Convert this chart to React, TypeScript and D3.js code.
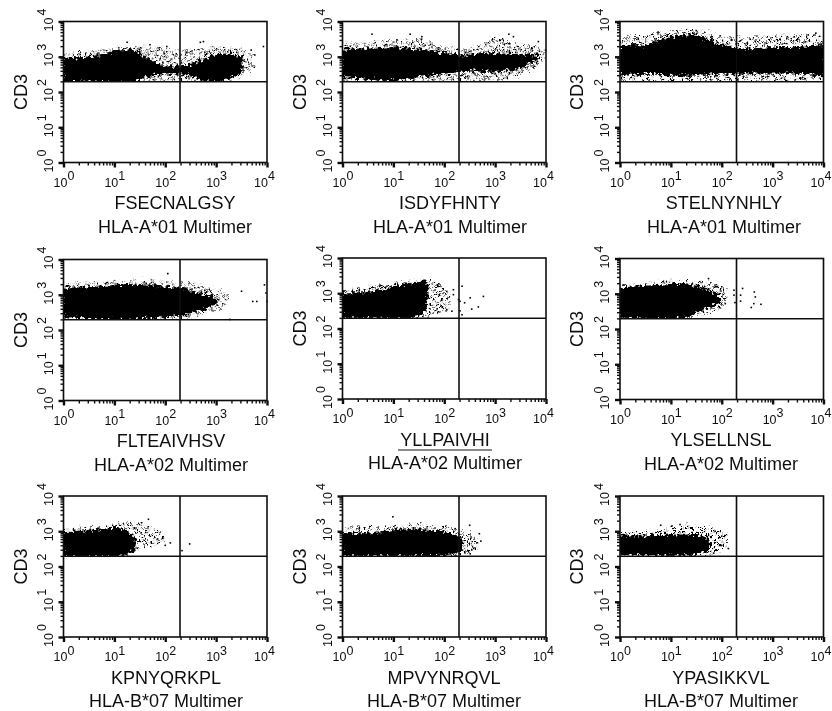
import { useEffect, useRef } from 'react'
import * as d3 from 'd3'

// All values below are log10 decades.
// The clouds hold thousands of events that cannot be read one by one, so each one
// is kept as an outline: [x, low, high] for the solid core and for the sparser halo.
const peptides = ['FSECNALGSY', 'ISDYFHNTY', 'STELNYNHLY', 'FLTEAIVHSV', 'YLLPAIVHI', 'YLSELLNSL', 'KPNYQRKPL', 'MPVYNRQVL', 'YPASIKKVL']
const alleles = ['HLA-A*01', 'HLA-A*01', 'HLA-A*01', 'HLA-A*02', 'HLA-A*02', 'HLA-A*02', 'HLA-B*07', 'HLA-B*07', 'HLA-B*07']
const gateX = 2.29
const gateY = 2.29

const fsecCore = [[0, 2.3, 2.98], [0.3, 2.32, 2.95], [0.6, 2.33, 3], [0.9, 2.3, 3.1], [1.1, 2.29, 3.15], [1.4, 2.33, 3.18], [1.55, 2.4, 3], [1.75, 2.5, 2.85], [2, 2.55, 2.7], [2.3, 2.55, 2.68], [2.5, 2.5, 2.75], [2.75, 2.35, 2.9], [3, 2.3, 3.05], [3.3, 2.42, 3.05], [3.5, 2.6, 2.98]]
const fsecHalo = [[0, 2.29, 3.05], [1, 2.29, 3.25], [1.5, 2.29, 3.3], [2, 2.3, 3.2], [2.5, 2.29, 3.2], [3, 2.29, 3.3], [3.4, 2.35, 3.25], [3.75, 2.7, 3.05]]
const fsecStray = [[3.93, 3.29], [3.76, 3.05], [3.69, 3.19], [2.69, 3.41], [2.75, 3.43], [2.03, 3.29], [1.7, 3.34], [1.25, 3.41]]

const isdyCore = [[0, 2.45, 3.2], [0.5, 2.4, 3.2], [1, 2.33, 3.25], [1.5, 2.45, 3.18], [2, 2.55, 3.1], [2.3, 2.6, 3], [2.6, 2.62, 3.05], [3, 2.6, 3.08], [3.4, 2.68, 3.05], [3.7, 2.85, 3.03], [3.85, 2.95, 3]]
const isdyHalo = [[0, 2.29, 3.4], [0.5, 2.29, 3.4], [1, 2.29, 3.5], [1.5, 2.29, 3.5], [2, 2.29, 3.3], [2.5, 2.29, 3.25], [3, 2.3, 3.55], [3.4, 2.4, 3.4], [3.9, 2.8, 3.3], [4, 2.95, 3.1]]
const isdyStray = [[0.58, 3.64], [1.33, 3.64], [1.56, 3.57], [3.27, 3.64], [3.36, 3.57], [3.99, 3.19], [3.85, 3.43], [1.07, 3.48]]

const stelCore = [[0, 2.5, 3.3], [0.5, 2.55, 3.3], [1, 2.5, 3.55], [1.5, 2.5, 3.6], [2, 2.55, 3.3], [2.5, 2.55, 3.2], [3, 2.55, 3.25], [3.5, 2.55, 3.25], [4, 2.5, 3.3]]
const stelHalo = [[0, 2.29, 3.55], [0.5, 2.29, 3.6], [1, 2.29, 3.75], [1.5, 2.29, 3.8], [2, 2.29, 3.55], [2.5, 2.29, 3.55], [3, 2.29, 3.6], [3.5, 2.3, 3.65], [4, 2.35, 3.6]]
const stelStray = [[3.7, 3.62], [3.85, 3.67], [1.5, 3.74], [0.75, 3.7]]

const flteCore = [[0, 2.4, 3.18], [0.5, 2.35, 3.18], [1, 2.31, 3.25], [1.5, 2.33, 3.25], [2, 2.38, 3.2], [2.4, 2.45, 3.15], [2.6, 2.55, 3.05], [2.85, 2.65, 2.95], [3, 2.8, 2.88]]
const flteHalo = [[0, 2.29, 3.3], [1, 2.29, 3.4], [1.5, 2.29, 3.4], [2, 2.3, 3.4], [2.5, 2.35, 3.35], [2.8, 2.45, 3.25], [3, 2.55, 3.15], [3.25, 2.75, 3]]
const flteStray = [[2.05, 3.6], [3.5, 3.1], [3.72, 2.81], [3.8, 2.81], [3.95, 3.28], [3.98, 3.05], [4, 2.81], [3.27, 2.3]]

const yllpCore = [[0, 2.3, 3], [0.5, 2.33, 3], [0.8, 2.3, 3.1], [1.1, 2.3, 3.18], [1.3, 2.3, 3.25], [1.6, 2.45, 3.33], [1.65, 2.7, 3.33]]
const yllpHalo = [[0, 2.28, 3.05], [1, 2.28, 3.3], [1.6, 2.3, 3.4], [1.9, 2.45, 3.25], [2.1, 2.5, 3]]
const yllpStray = [[2.05, 3.05], [2.18, 2.96], [2.35, 3.2], [2.31, 2.77], [2.28, 2.82], [2.51, 2.87], [2.4, 2.73], [2.77, 2.91], [2.67, 2.61], [2.54, 2.55], [2.35, 2.39], [2.31, 2.5], [2.05, 2.53], [2.15, 2.49], [2.18, 3.1]]

const ylseCore = [[0, 2.35, 3.15], [0.5, 2.32, 3.2], [1, 2.3, 3.25], [1.3, 2.35, 3.25], [1.6, 2.55, 3.15], [1.8, 2.68, 3.05], [1.95, 2.8, 2.9]]
const ylseHalo = [[0, 2.28, 3.2], [0.5, 2.28, 3.3], [1, 2.28, 3.4], [1.5, 2.33, 3.35], [1.8, 2.45, 3.3], [2.1, 2.7, 3.1]]
const ylseStray = [[2.41, 3.15], [2.24, 3.1], [2.24, 2.96], [2.26, 2.75], [2.37, 2.96], [2.37, 2.79], [2.64, 3.05], [2.66, 2.91], [2.63, 2.72], [2.58, 2.61], [2.77, 2.7], [2.07, 2.72], [2, 3.2], [1.74, 3.43]]

const kpnyCore = [[0, 2.3, 2.98], [0.5, 2.3, 3], [1, 2.3, 3.1], [1.2, 2.32, 3], [1.35, 2.45, 2.85], [1.4, 2.55, 2.8]]
const kpnyHalo = [[0, 2.29, 3.05], [0.5, 2.29, 3.1], [1, 2.29, 3.2], [1.4, 2.4, 3.25], [1.7, 2.6, 3.15], [2, 2.7, 2.85]]
const kpnyStray = [[2.48, 2.64], [2.33, 2.45], [2.1, 2.67], [2, 2.6], [1.67, 3.34], [1.85, 2.78]]

const mpvyCore = [[0, 2.32, 2.95], [0.5, 2.32, 2.9], [1, 2.32, 3], [1.5, 2.32, 3.05], [2, 2.33, 2.95], [2.25, 2.4, 2.85], [2.35, 2.5, 2.75]]
const mpvyHalo = [[0, 2.29, 3.1], [1, 2.29, 3.15], [1.5, 2.29, 3.2], [2.1, 2.29, 3.12], [2.4, 2.32, 3], [2.65, 2.5, 2.9]]
const mpvyStray = [[0.99, 3.41], [2.5, 3.17], [2.69, 2.93], [2.64, 2.67], [2.51, 2.36], [2.54, 2.47], [2.72, 2.72]]

const ypasCore = [[0, 2.35, 2.85], [0.5, 2.35, 2.85], [1, 2.33, 2.88], [1.3, 2.35, 2.88], [1.6, 2.4, 2.85], [1.75, 2.5, 2.7]]
const ypasHalo = [[0, 2.29, 3.05], [0.5, 2.29, 3], [1, 2.29, 3.1], [1.4, 2.29, 3.2], [1.8, 2.35, 3.1], [2.1, 2.55, 2.9]]
const ypasStray = [[0.8, 3.17], [1.18, 3.19], [2, 2.86], [2.13, 2.51], [2, 2.6], [1.87, 3], [1.84, 2.38]]

const cores = [fsecCore, isdyCore, stelCore, flteCore, yllpCore, ylseCore, kpnyCore, mpvyCore, ypasCore]
const halos = [fsecHalo, isdyHalo, stelHalo, flteHalo, yllpHalo, ylseHalo, kpnyHalo, mpvyHalo, ypasHalo]
const strays = [fsecStray, isdyStray, stelStray, flteStray, yllpStray, ylseStray, kpnyStray, mpvyStray, ypasStray]

const decades = [1, 10, 100, 1000, 10000]
const exponents = ['0', '1', '2', '3', '4']

// Layout of the nine plot frames, measured in pixels
const lefts = [63.5, 342.5, 620, 63.5, 342.5, 620, 63.5, 342.5, 620]
const tops = [21.5, 21.5, 21.5, 259.5, 258, 258.5, 496, 496, 496]
const labelCenters = [175, 450, 724, 171, 445, 721, 166, 444, 721]
const plotW = 203.5
const plotH = 141
const FONT = '"Liberation Sans", Arial, sans-serif'

// irregular dots used to fill the sparse part of a cloud
const speckle = [[1, 2], [6, 1], [12, 3], [16, 0], [3, 6], [9, 5], [14, 7], [0, 10], [6, 10], [11, 11], [17, 10], [3, 14], [8, 14], [14, 14]]

export default function App() {
  const ref = useRef<SVGSVGElement>(null)

  useEffect(() => {
    const svg = d3.select(ref.current)
    svg.selectAll('*').remove()

    const defs = svg.append('defs')
    const pattern = defs.append('pattern')
      .attr('id', 'sparse')
      .attr('patternUnits', 'userSpaceOnUse')
      .attr('width', 19)
      .attr('height', 17)
    speckle.forEach(s => {
      pattern.append('rect').attr('x', s[0]).attr('y', s[1]).attr('width', 2.2).attr('height', 2.2).attr('fill', '#000')
    })

    // roughens the outlines so they read as piles of events rather than smooth blobs
    const rough = defs.append('filter')
      .attr('id', 'rough')
      .attr('x', '-10%').attr('y', '-20%').attr('width', '120%').attr('height', '140%')
    rough.append('feTurbulence')
      .attr('type', 'fractalNoise').attr('baseFrequency', 0.32).attr('numOctaves', 2).attr('seed', 4).attr('result', 'n')
    rough.append('feDisplacementMap')
      .attr('in', 'SourceGraphic').attr('in2', 'n').attr('scale', 10)
      .attr('xChannelSelector', 'R').attr('yChannelSelector', 'G')

    defs.append('filter').attr('id', 'soft')
      .append('feGaussianBlur').attr('stdDeviation', 0.35)

    const root = svg.append('g').attr('filter', 'url(#soft)')

    peptides.forEach((peptide, i) => {
      const left = lefts[i]
      const top = tops[i]
      const g = root.append('g').attr('transform', `translate(${left},${top})`)

      const x = d3.scaleLog().domain([1, 10000]).range([0, plotW])
      const y = d3.scaleLog().domain([1, 10000]).range([plotH, 0])

      const area = d3.area<number[]>()
        .x(d => x(10 ** d[0]))
        .y0(d => y(10 ** d[1]))
        .y1(d => y(10 ** d[2]))

      // events are gated: nothing falls below the horizontal line
      defs.append('clipPath').attr('id', `upper${i}`)
        .append('rect').attr('x', 0).attr('y', 0).attr('width', plotW).attr('height', y(10 ** gateY))

      const cloud = g.append('g').attr('clip-path', `url(#upper${i})`).append('g').attr('filter', 'url(#rough)')
      cloud.append('path').attr('d', area(halos[i])).attr('fill', 'url(#sparse)')
      cloud.append('path').attr('d', area(cores[i])).attr('fill', '#000').attr('stroke', '#000').attr('stroke-width', 2)

      g.selectAll('rect.stray')
        .data(strays[i])
        .join('rect')
        .attr('class', 'stray')
        .attr('x', d => x(10 ** d[0]) - 0.8)
        .attr('y', d => y(10 ** d[1]) - 0.8)
        .attr('width', 1.6)
        .attr('height', 1.6)
        .attr('fill', '#000')

      // Axes: long ticks on the decades, short ones between
      const styleAxis = (a: any, isBottom: boolean) => {
        a.select('.domain').remove()
        a.selectAll('.tick line')
          .attr('stroke', '#111')
          .attr('stroke-width', (d: number) => (decades.includes(d) ? 2.4 : 1.4))
          .attr(isBottom ? 'y2' : 'x2', (d: number) => (isBottom ? 1 : -1) * (decades.includes(d) ? 5 : 3))
      }
      g.append('g')
        .attr('transform', `translate(0,${plotH})`)
        .call(d3.axisBottom(x).tickValues(x.ticks()).tickFormat(() => ''))
        .call((a: any) => styleAxis(a, true))
      g.append('g')
        .call(d3.axisLeft(y).tickValues(y.ticks()).tickFormat(() => ''))
        .call((a: any) => styleAxis(a, false))

      // Frame and quadrant gates
      g.append('rect')
        .attr('width', plotW).attr('height', plotH)
        .attr('fill', 'none').attr('stroke', '#111').attr('stroke-width', 1.6)
      g.append('line')
        .attr('x1', x(10 ** gateX)).attr('x2', x(10 ** gateX))
        .attr('y1', 0).attr('y2', plotH)
        .attr('stroke', '#111').attr('stroke-width', 1.6)
      g.append('line')
        .attr('x1', 0).attr('x2', plotW)
        .attr('y1', y(10 ** gateY)).attr('y2', y(10 ** gateY))
        .attr('stroke', '#111').attr('stroke-width', 1.6)

      decades.forEach((d, k) => {
        const tx = g.append('text')
          .attr('x', x(d) - (k === 4 ? 13 : 10)).attr('y', plotH + 24)
          .attr('font-family', FONT).attr('font-size', 12.5).attr('fill', '#111')
        tx.append('tspan').text('10')
        tx.append('tspan').attr('dy', -6.5).text(exponents[k])

        const ty = g.append('text')
          .attr('transform', `translate(-11,${y(d) + 10}) rotate(-90)`)
          .attr('font-family', FONT).attr('font-size', 12.5).attr('fill', '#111')
        ty.append('tspan').text('10')
        ty.append('tspan').attr('dy', -6.5).attr('dx', 2).text(exponents[k])
      })

      // Titles
      g.append('text')
        .attr('transform', `translate(-37,${plotH / 2 + 0}) rotate(-90)`)
        .attr('text-anchor', 'middle')
        .attr('font-family', FONT).attr('font-size', 18).attr('fill', '#111')
        .text('CD3')
      root.append('text')
        .attr('x', labelCenters[i]).attr('y', top + plotH + 46.5)
        .attr('text-anchor', 'middle')
        .attr('font-family', FONT).attr('font-size', 18).attr('fill', '#111')
        .text(peptide)
      root.append('text')
        .attr('x', labelCenters[i]).attr('y', top + plotH + 70)
        .attr('text-anchor', 'middle')
        .attr('font-family', FONT).attr('font-size', 18).attr('fill', '#111')
        .text(`${alleles[i]} Multimer`)
      if (peptide === 'YLLPAIVHI') {
        // the underline under this peptide in the source figure
        root.append('line')
          .attr('x1', labelCenters[i] - 47).attr('x2', labelCenters[i] + 47)
          .attr('y1', top + plotH + 51).attr('y2', top + plotH + 51)
          .attr('stroke', '#111').attr('stroke-width', 1)
      }
    })
  }, [])

  return (
    <svg
      ref={ref}
      width={832}
      height={711}
      style={{ position: 'absolute', left: 0, top: 0, background: '#fff' }}
    />
  )
}
